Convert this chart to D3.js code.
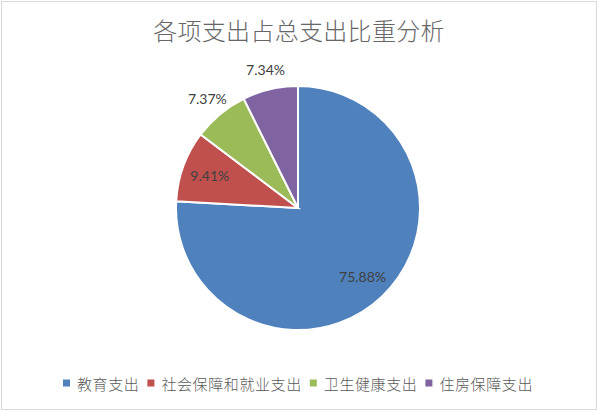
<!DOCTYPE html>
<html>
<head>
<meta charset="utf-8">
<title>各项支出占总支出比重分析</title>
<script src="https://cdnjs.cloudflare.com/ajax/libs/d3/7.8.5/d3.min.js"></script>
<style>
  html, body { margin: 0; padding: 0; background: #fff; }
  svg { display: block; }
  .title { font-family: "Noto Sans CJK SC", sans-serif; font-size: 24px; font-weight: 300; fill: #666; letter-spacing: 0.3px; }
  .label { font-family: Lato, "Open Sans", sans-serif; font-size: 14px; fill: #404040; }
  .legend text { font-family: "Noto Sans CJK SC", sans-serif; font-size: 15px; font-weight: 300; fill: #595959; letter-spacing: 0.6px; }
</style>
</head>
<body>
<svg id="chart" width="600" height="412"></svg>
<script>
// data
const categories = ["教育支出", "社会保障和就业支出", "卫生健康支出", "住房保障支出"];
const shares = [75.88, 9.41, 7.37, 7.34];
const colors = ["#4f81bd", "#c0504d", "#9bbb59", "#8064a2"];
const chartTitle = "各项支出占总支出比重分析";

const W = 600, H = 412;
const cx = 298, cy = 208, r = 122;

const svg = d3.select("#chart");

// light frame round the whole chart
svg.append("rect")
  .attr("x", 1.5).attr("y", 1.5)
  .attr("width", W - 5).attr("height", H - 4)
  .attr("fill", "#fff").attr("stroke", "#d9d9d9");

svg.append("text")
  .attr("class", "title")
  .attr("x", 299).attr("y", 29)
  .attr("text-anchor", "middle")
  .attr("dominant-baseline", "central")
  .text(chartTitle);

const pie = d3.pie().sort(null).value(d => d);
const arcs = pie(shares);
const arc = d3.arc().innerRadius(0).outerRadius(r);
const inArc = d3.arc().innerRadius(r * 0.77).outerRadius(r * 0.77);
const outArc = d3.arc().innerRadius(r + 20).outerRadius(r + 20);

const g = svg.append("g").attr("transform", `translate(${cx},${cy})`);

g.selectAll("path")
  .data(arcs)
  .join("path")
    .attr("d", arc)
    .attr("fill", (d, i) => colors[i])
    .attr("stroke", "#fff")
    .attr("stroke-width", 2);

// small slices get their label outside, like Excel's best fit
g.selectAll("text")
  .data(arcs)
  .join("text")
    .attr("class", "label")
    .attr("transform", d => {
      const p = (d.data < 8 ? outArc : inArc).centroid(d);
      return `translate(${p})`;
    })
    .attr("text-anchor", "middle")
    .attr("dominant-baseline", "central")
    .text(d => d.data.toFixed(2) + "%");

// legend, centred under the pie
const legend = svg.append("g").attr("class", "legend");
const items = legend.selectAll("g")
  .data(categories)
  .join("g");
items.append("rect")
  .attr("width", 7).attr("height", 7)
  .attr("y", -3.5)
  .attr("fill", (d, i) => colors[i]);
items.append("text")
  .attr("x", 14)
  .attr("dominant-baseline", "central")
  .text(d => d);

let x = 0;
items.each(function () {
  const w = 14 + d3.select(this).select("text").node().getComputedTextLength();
  d3.select(this).attr("transform", `translate(${x},0)`);
  x += w + 8;
});
const total = x - 8;
legend.attr("transform", `translate(${(W - total) / 2 - 2},383)`);
</script>
</body>
</html>
